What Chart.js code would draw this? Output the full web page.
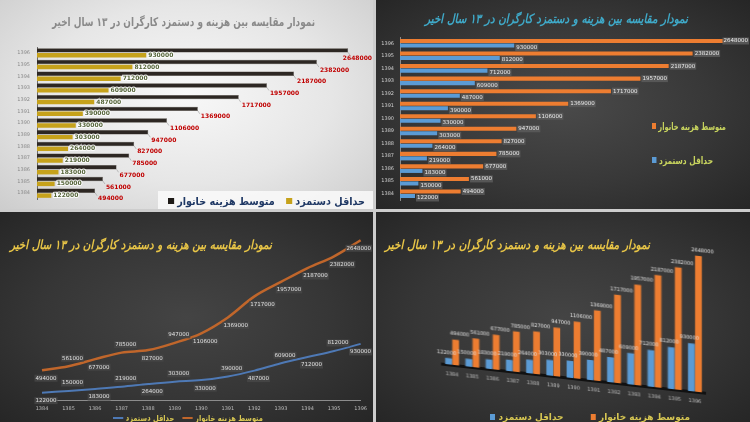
<!DOCTYPE html>
<html>
<head>
<meta charset="utf-8">
<script src="https://cdn.jsdelivr.net/npm/chart.js@4.4.1/dist/chart.umd.min.js"></script>
<style>
html, body { margin: 0; padding: 0; }
body { width: 750px; height: 422px; background: #cdcdcd; position: relative; overflow: hidden; font-family: "DejaVu Sans", sans-serif; }
.panel { position: absolute; overflow: hidden; }
#p1 { left: 0; top: 0; width: 373px; height: 209px; background: radial-gradient(ellipse at 50% 45%, #f8f8f8 0%, #e6e6e6 55%, #cdcdcd 100%); }
#p2 { left: 376px; top: 0; width: 374px; height: 209px; background: radial-gradient(ellipse at 50% 50%, #4a4a4a 0%, #383838 55%, #262626 100%); }
#p3 { left: 0; top: 212px; width: 373px; height: 210px; background: radial-gradient(ellipse at 50% 50%, #444 0%, #363636 55%, #262626 100%); }
#p4 { left: 376px; top: 212px; width: 374px; height: 210px; background: radial-gradient(ellipse at 50% 50%, #444 0%, #363636 55%, #262626 100%); }
.panel canvas { position: absolute; }
.title { position: absolute; white-space: nowrap; direction: rtl; font-weight: bold; font-size: 12px; }
.leg { position: absolute; display: flex; align-items: center; white-space: nowrap; font-weight: bold; font-size: 10px; }
.leg .t { direction: rtl; }
.sw { display: inline-block; width: 0.6em; height: 0.6em; margin-right: 0.35em; }
.ln { display: inline-block; width: 1.5em; height: 2px; margin-right: 0.4em; }
.gap { display: inline-block; width: 1.2em; }
</style>
</head>
<body>

<div class="panel" id="p1">
  <canvas id="c1" width="373" height="209"></canvas>
  <div class="title fit" data-x="52" data-w="263" data-y="22" style="color:#8a8a8a;font-size:12px;">نمودار مقایسه بین هزینه و دستمزد کارگران در ۱۳ سال اخیر</div>
  <div style="position:absolute;left:158px;top:191px;width:215px;height:18px;background:rgba(250,250,250,0.85);"></div>
  <div class="leg fit" data-x="168" data-w="197" data-y="201" style="color:#1f3864;font-size:11px;">
    <span class="sw" style="background:#1e1a17"></span><span class="t">متوسط هزینه خانوار</span>
    <span class="gap"></span>
    <span class="sw" style="background:#c6a21b"></span><span class="t">حداقل دستمزد</span>
  </div>
</div>

<div class="panel" id="p2">
  <canvas id="c2" width="374" height="209"></canvas>
  <div class="title fit" data-x="49" data-w="263" data-y="18" style="color:#3fa9c8;font-style:italic;font-size:12.5px;">نمودار مقایسه بین هزینه و دستمزد کارگران در ۱۳ سال اخیر</div>
  <div class="leg fit" data-x="276" data-w="74" data-y="126" style="color:#c8d45e;font-size:10px;">
    <span class="sw" style="background:#ed7d31"></span><span class="t">متوسط هزینه خانوار</span>
  </div>
  <div class="leg fit" data-x="276" data-w="61" data-y="160" style="color:#c8d45e;font-size:10px;">
    <span class="sw" style="background:#5b9bd5"></span><span class="t">حداقل دستمزد</span>
  </div>
</div>

<div class="panel" id="p3">
  <canvas id="c3" width="373" height="210"></canvas>
  <div class="title fit" data-x="10" data-w="262" data-y="32" style="color:#e8c547;font-style:italic;font-size:12.5px;">نمودار مقایسه بین هزینه و دستمزد کارگران در ۱۳ سال اخیر</div>
  <div class="leg fit" data-x="113" data-w="150" data-y="206" style="color:#d6c652;font-size:8.5px;">
    <span class="ln" style="background:#4e79b5"></span><span class="t">حداقل دستمزد</span>
    <span class="gap"></span>
    <span class="ln" style="background:#c0662b"></span><span class="t">متوسط هزینه خانوار</span>
  </div>
</div>

<div class="panel" id="p4">
  <canvas id="c4" width="330" height="180" style="left:24px;top:-10px;transform:skewY(6.3deg);transform-origin:0 0;"></canvas>
  <div class="title fit" data-x="9" data-w="265" data-y="32" style="color:#e8c547;font-style:italic;font-size:12.5px;">نمودار مقایسه بین هزینه و دستمزد کارگران در ۱۳ سال اخیر</div>
  <div class="leg fit" data-x="114" data-w="200" data-y="205" style="color:#d6c652;font-size:9px;">
    <span class="sw" style="background:#5b9bd5"></span><span class="t">حداقل دستمزد</span>
    <span class="gap" style="width:3em"></span>
    <span class="sw" style="background:#ed7d31"></span><span class="t">متوسط هزینه خانوار</span>
  </div>
</div>

<script>
// years 1384 .. 1396
const years = ["1384", "1385", "1386", "1387", "1388", "1389", "1390", "1391", "1392", "1393", "1394", "1395", "1396"];
// average household cost (toman)
const householdCost = [494000, 561000, 677000, 785000, 827000, 947000, 1106000, 1369000, 1717000, 1957000, 2187000, 2382000, 2648000];
// minimum wage (toman)
const minWage = [122000, 150000, 183000, 219000, 264000, 303000, 330000, 390000, 487000, 609000, 712000, 812000, 930000];

const costLabel = "متوسط هزینه خانوار";
const wageLabel = "حداقل دستمزد";
const axisMax = 2800000;
const lineMax = 3000000;

// squeeze the html titles / legends into the box they have in the picture
document.querySelectorAll(".fit").forEach(function (el) {
    const r = el.getBoundingClientRect();
    el.style.left = el.dataset.x + "px";
    el.style.top = (Number(el.dataset.y) - r.height / 2) + "px";
    el.style.transformOrigin = "0 50%";
    el.style.transform = "scaleX(" + (Number(el.dataset.w) / r.width) + ")";
});

Chart.defaults.font.family = '"DejaVu Sans", sans-serif';
Chart.defaults.animation = false;

// small inline plugin for value labels
function valueLabels(id, draw) {
    return {
        id: id,
        afterDatasetsDraw(chart) {
            const ctx = chart.ctx;
            chart.data.datasets.forEach(function (ds, di) {
                chart.getDatasetMeta(di).data.forEach(function (el, i) {
                    ctx.save();
                    draw(ctx, el, String(ds.data[i]), di, i, chart);
                    ctx.restore();
                });
            });
        }
    };
}

// Chart 1 - light horizontal bars
new Chart(document.getElementById("c1"), {
    type: "bar",
    data: {
        labels: years,
        datasets: [
            { label: costLabel, data: householdCost, backgroundColor: "#2d2723", borderColor: "#4a423b", borderWidth: 0.5 },
            { label: wageLabel, data: minWage, backgroundColor: "#c6a21b" }
        ]
    },
    options: {
        indexAxis: "y",
        responsive: false,
        categoryPercentage: 0.84,
        barPercentage: 0.9,
        layout: { padding: { left: 0, top: 47, right: 7, bottom: 3 } },
        scales: {
            x: { display: false, min: 0, max: axisMax },
            y: {
                reverse: true,
                grid: { display: false, drawTicks: false },
                border: { display: true, color: "#6a6a6a" },
                ticks: { color: "#8a8a8a", font: { size: 5 }, padding: 7 },
                afterFit: function (axis) { axis.width = 37; }
            }
        },
        plugins: { legend: { display: false }, tooltip: { enabled: false } }
    },
    plugins: [valueLabels("lbl1", function (ctx, el, v, di, i, chart) {
        ctx.font = 'bold 6px "DejaVu Sans"';
        ctx.textBaseline = "middle";
        ctx.textAlign = "left";
        if (di === 0) {
            const w = ctx.measureText(v).width;
            const x = Math.min(el.x + 3, chart.width - w - 1);
            ctx.strokeStyle = "#9a9a9a";
            ctx.lineWidth = 0.6;
            ctx.beginPath();
            ctx.moveTo(el.x, el.y + 2);
            ctx.lineTo(el.x + 2, el.y + 5);
            ctx.stroke();
            ctx.fillStyle = "#c00000";
            ctx.fillText(v, x, el.y + 8);
        } else {
            ctx.lineWidth = 2;
            ctx.strokeStyle = "rgba(255,255,255,0.85)";
            ctx.strokeText(v, el.x + 2, el.y);
            ctx.fillStyle = "#56653a";
            ctx.fillText(v, el.x + 2, el.y);
        }
    })]
});

// Chart 2 - dark horizontal bars
new Chart(document.getElementById("c2"), {
    type: "bar",
    data: {
        labels: years,
        datasets: [
            { label: costLabel, data: householdCost, backgroundColor: "#ed7d31" },
            { label: wageLabel, data: minWage, backgroundColor: "#5b9bd5" }
        ]
    },
    options: {
        indexAxis: "y",
        responsive: false,
        categoryPercentage: 0.72,
        barPercentage: 0.9,
        layout: { padding: { left: 0, top: 37, right: 6, bottom: 6 } },
        scales: {
            x: { display: false, min: 0, max: axisMax },
            y: {
                reverse: true,
                grid: { display: false, drawTicks: false },
                border: { display: true, color: "#8a8a8a" },
                ticks: { color: "#d0d0d0", font: { size: 5 }, padding: 6 },
                afterFit: function (axis) { axis.width = 24; }
            }
        },
        plugins: { legend: { display: false }, tooltip: { enabled: false } }
    },
    plugins: [valueLabels("lbl2", function (ctx, el, v, di, i, chart) {
        ctx.font = '5.5px "DejaVu Sans"';
        ctx.textBaseline = "middle";
        ctx.textAlign = "left";
        const w = ctx.measureText(v).width;
        const x = Math.min(el.x + 2, chart.width - w - 2), y = el.y + (di === 0 ? 0 : 2);
        ctx.fillStyle = "rgba(90,90,90,0.9)";
        ctx.fillRect(x - 1, y - 3.5, w + 2, 7);
        ctx.fillStyle = "#ececec";
        ctx.fillText(v, x, y);
    })]
});

// Chart 3 - lines
new Chart(document.getElementById("c3"), {
    type: "line",
    data: {
        labels: years,
        datasets: [
            { label: costLabel, data: householdCost, borderColor: "#c0662b", borderWidth: 2.5, pointRadius: 0, tension: 0.35 },
            { label: wageLabel, data: minWage, borderColor: "#4e79b5", borderWidth: 2, pointRadius: 0, tension: 0.35 }
        ]
    },
    options: {
        responsive: false,
        layout: { padding: { left: 42, top: 7, right: 11, bottom: 0 } },
        scales: {
            x: {
                offset: false,
                grid: { display: false, drawTicks: false },
                border: { display: true, color: "#8c8c8c" },
                ticks: { color: "#bdbdbd", font: { size: 5 }, padding: 6, maxRotation: 0 },
                afterFit: function (axis) { axis.height = 22; }
            },
            y: { display: false, min: 0, max: lineMax }
        },
        plugins: { legend: { display: false }, tooltip: { enabled: false } }
    },
    plugins: [valueLabels("lbl3", function (ctx, el, v, di, i, chart) {
        ctx.font = '5.5px "DejaVu Sans"';
        ctx.textBaseline = "middle";
        ctx.textAlign = "center";
        // upper part of the cost line keeps its labels below-right, as in the picture
        const below = (di === 0 && i >= 7) || i % 2 === 0;
        const dy = below ? 8 : -8;
        const w = ctx.measureText(v).width;
        const x = Math.min(el.x + (di === 0 && i >= 7 ? 8 : 4), chart.width - w / 2 - 2), y = el.y + dy;
        ctx.fillStyle = "rgba(70,70,70,0.85)";
        ctx.fillRect(x - w / 2 - 1, y - 3.5, w + 2, 7);
        ctx.fillStyle = "#e0e0e0";
        ctx.fillText(v, x, y);
    })]
});

// Chart 4 - columns (canvas is skewed by css for the perspective look)
new Chart(document.getElementById("c4"), {
    type: "bar",
    data: {
        labels: years,
        datasets: [
            { label: wageLabel, data: minWage, backgroundColor: "#5b9bd5" },
            { label: costLabel, data: householdCost, backgroundColor: "#ed7d31" }
        ]
    },
    options: {
        responsive: false,
        categoryPercentage: 0.7,
        barPercentage: 0.95,
        layout: { padding: { left: 42, top: 3, right: 25, bottom: 0 } },
        scales: {
            x: {
                grid: { display: false, drawTicks: false },
                border: { display: true, color: "#111", width: 3 },
                ticks: { color: "#bdbdbd", font: { size: 5 }, padding: 7, maxRotation: 0 },
                afterFit: function (axis) { axis.height = 23; }
            },
            y: { display: false, min: 0, max: lineMax }
        },
        plugins: { legend: { display: false }, tooltip: { enabled: false } }
    },
    plugins: [valueLabels("lbl4", function (ctx, el, v, di) {
        ctx.font = '5px "DejaVu Sans"';
        ctx.textBaseline = "bottom";
        ctx.textAlign = "center";
        ctx.fillStyle = "#e6e6e6";
        ctx.fillText(v, el.x + (di === 1 ? 4 : -2), el.y - 3);
    })]
});
</script>
</body>
</html>
